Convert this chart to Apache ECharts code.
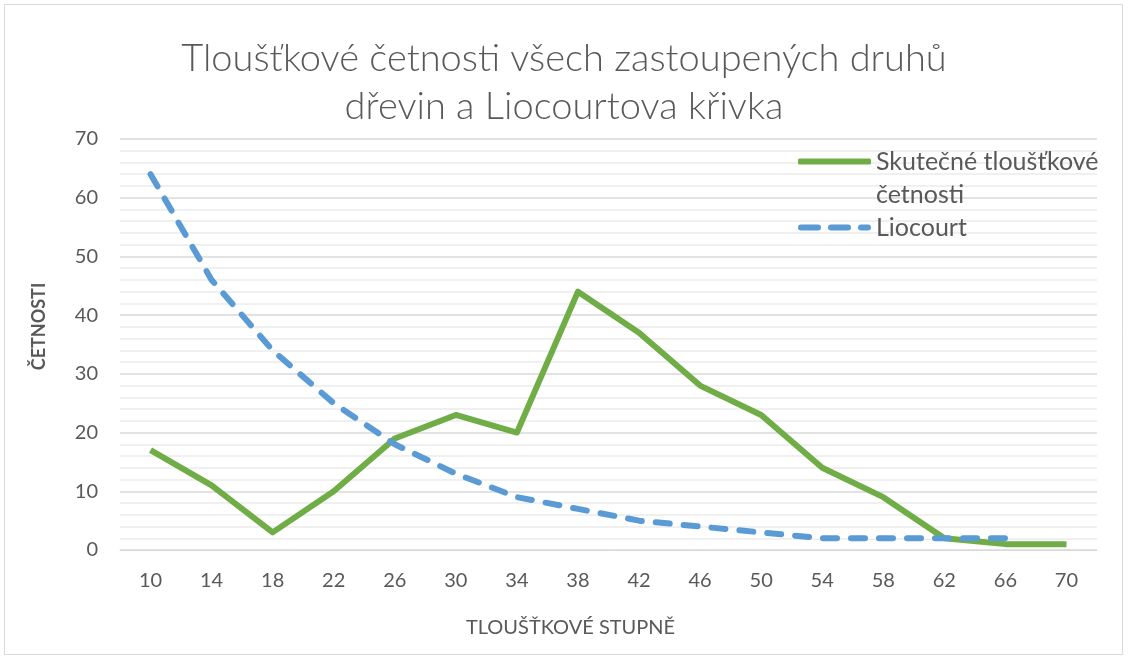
<!DOCTYPE html>
<html><head><meta charset="utf-8">
<script src="https://cdn.jsdelivr.net/npm/echarts@6/dist/echarts.min.js"></script>
<style>html,body{margin:0;padding:0;background:#fff}#c{width:1128px;height:659px}</style>
</head><body><div id="c"></div>
<script>
const categories = ['10','14','18','22','26','30','34','38','42','46','50','54','58','62','66','70'];
const skutecne = [17, 11, 3, 10, 19, 23, 20, 44, 37, 28, 23, 14, 9, 2, 1, 1];
const liocourt = [64, 46, 34, 25, 18, 13, 9, 7, 5, 4, 3, 2, 2, 2, 2, null];
const seriesNames = ['Skutečné tloušťkové četnosti', 'Liocourt'];
const titleText = 'Tloušťkové četnosti všech zastoupených druhů\ndřevin a Liocourtova křivka';
const FONT = 'Lato, "Open Sans", sans-serif';
const chart = echarts.init(document.getElementById('c'));
chart.setOption({
  animation: false,
  textStyle: { fontFamily: FONT },
  graphic: [{ type: 'rect', shape: { x: 4.5, y: 4.5, width: 1118, height: 650 }, style: { fill: 'none', stroke: '#d9d9d9', lineWidth: 1 } }],
  title: { text: titleText, left: 'center', top: 30, textStyle: { fontFamily: FONT, fontSize: 38, fontWeight: 300, color: '#595959', lineHeight: 48 } },
  legend: {
    orient: 'vertical', left: 793, top: 107, itemWidth: 73, itemHeight: 6, itemGap: 0,
    formatter: n => n === seriesNames[0] ? ' \nSkutečné tloušťkové\nčetnosti' : n,
    textStyle: { fontFamily: FONT, fontSize: 25, color: '#595959', lineHeight: 33 },
    data: [
      { name: seriesNames[0], icon: 'roundRect' },
      { name: seriesNames[1], icon: 'path://M3,0H20A3,3 0 0 1 20,6H3A3,3 0 0 1 3,0Z M33,0H50A3,3 0 0 1 50,6H33A3,3 0 0 1 33,0Z M63,0H70A3,3 0 0 1 70,6H63A3,3 0 0 1 63,0Z' }
    ]
  },
  grid: { left: 120, right: 31, top: 139, bottom: 109 },
  xAxis: {
    type: 'category', data: categories, boundaryGap: true,
    name: 'TLOUŠŤKOVÉ STUPNĚ', nameLocation: 'middle', nameGap: 68,
    nameTextStyle: { fontFamily: FONT, fontSize: 20, color: '#595959', padding: [0, 76, 0, 0] },
    axisLine: { show: true, lineStyle: { color: '#d9d9d9', width: 1 } },
    axisTick: { show: false },
    axisLabel: { fontFamily: FONT, fontSize: 20, color: '#595959', margin: 21 }
  },
  yAxis: {
    type: 'value', min: 0, max: 70, interval: 10,
    name: 'ČETNOSTI', nameLocation: 'middle', nameGap: 72, nameRotate: 90,
    nameTextStyle: { fontFamily: FONT, fontSize: 18, fontWeight: 'bold', color: '#595959', padding: [0, 0, 0, 36] },
    axisLine: { show: false }, axisTick: { show: false },
    axisLabel: { fontFamily: FONT, fontSize: 20, color: '#595959', margin: 22 },
    splitLine: { lineStyle: { color: '#d9d9d9', width: 1.5 } },
    minorTick: { show: false, splitNumber: 5 },
    minorSplitLine: { show: true, lineStyle: { color: '#ececec', width: 1.5 } }
  },
  series: [
    { name: seriesNames[0], type: 'line', data: skutecne, symbol: 'none',
      lineStyle: { color: '#70ad47', width: 6, join: 'round' }, itemStyle: { color: '#70ad47' } },
    { name: seriesNames[1], type: 'line', data: liocourt, symbol: 'none',
      lineStyle: { color: '#5b9bd5', width: 6, type: [14, 14], cap: 'round', join: 'round' }, itemStyle: { color: '#5b9bd5' } }
  ]
});
</script></body></html>
